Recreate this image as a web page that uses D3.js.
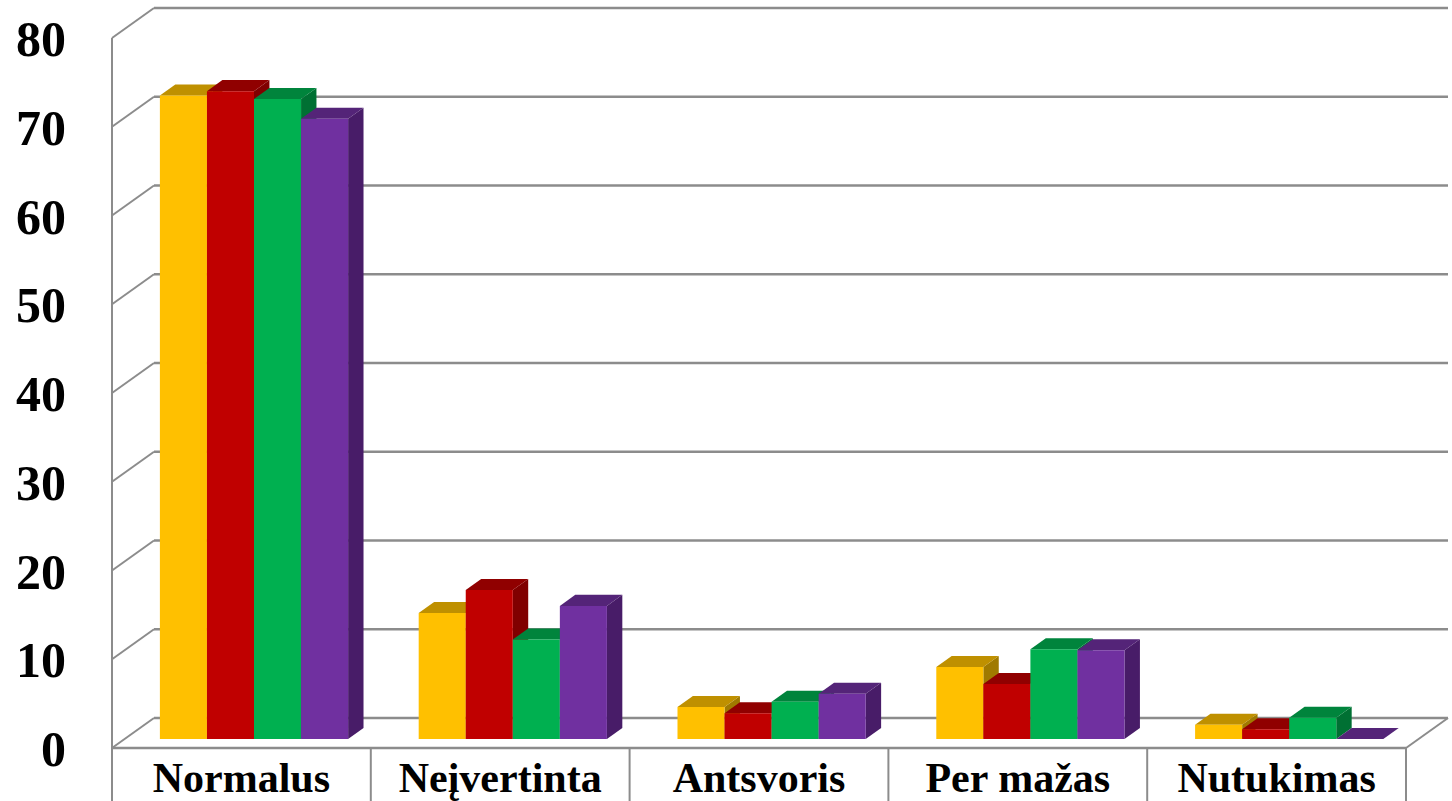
<!DOCTYPE html>
<html>
<head>
<meta charset="utf-8">
<script src="https://cdn.jsdelivr.net/npm/d3@7"></script>
<style>
  html, body { margin: 0; padding: 0; background: #fff; }
  svg { display: block; }
  text { font-family: 'Liberation Serif', 'Times New Roman', serif; font-weight: bold; fill: #000; }
</style>
</head>
<body>
<svg id="chart" width="1452" height="801"></svg>
<script>
const categories = ['Normalus', 'Neįvertinta', 'Antsvoris', 'Per mažas', 'Nutukimas'];
const series = ['Serija 1', 'Serija 2', 'Serija 3', 'Serija 4'];
const values = [
  [72.5, 73.0, 72.1, 69.9],
  [14.2, 16.8, 11.2, 15.0],
  [3.6, 2.9, 4.2, 5.1],
  [8.1, 6.2, 10.1, 10.0],
  [1.6, 1.1, 2.4, 0]
];
const yTicks = [0, 10, 20, 30, 40, 50, 60, 70, 80];

const frontColours = ['#FFC000', '#C00000', '#00B050', '#7030A0'];
const topColours = ['#BF9000', '#900000', '#00843C', '#542478'];
const sideColours = ['#A07A00', '#800000', '#007033', '#481C68'];

const svg = d3.select('#chart');

// depth of the box (oblique projection)
const depth = { dx: 42, dy: -30 };
const barFront = 0.3;
const barBack = 0.667;

const x0 = d3.scaleBand().domain(categories).range([112, 1406]);
const x1 = d3.scaleBand().domain(series).range([0, x0.bandwidth()]).paddingOuter(0.75);
const y = d3.scaleLinear().domain([0, 80]).range([748, 38]);

function pt(x, v, t) {
  return [x + t * depth.dx, y(v) + t * depth.dy];
}

const gridColour = '#8c8c8c';
const grid = svg.append('g').attr('class', 'grid');

// back wall gridlines
grid.selectAll('line.back')
  .data(yTicks)
  .enter()
  .append('line')
  .attr('class', 'back')
  .attr('x1', d => pt(112, d, 1)[0])
  .attr('y1', d => pt(112, d, 1)[1])
  .attr('x2', d => pt(1406, d, 1)[0])
  .attr('y2', d => pt(1406, d, 1)[1])
  .attr('stroke', gridColour)
  .attr('stroke-width', 2.5);

// side wall diagonals
grid.selectAll('line.side')
  .data(yTicks)
  .enter()
  .append('line')
  .attr('class', 'side')
  .attr('x1', d => pt(112, d, 0)[0])
  .attr('y1', d => pt(112, d, 0)[1])
  .attr('x2', d => pt(112, d, 1)[0])
  .attr('y2', d => pt(112, d, 1)[1])
  .attr('stroke', gridColour)
  .attr('stroke-width', 2);

// front-left vertical axis, running into category box
grid.append('line')
  .attr('x1', 112).attr('y1', y(80))
  .attr('x2', 112).attr('y2', 801)
  .attr('stroke', gridColour).attr('stroke-width', 2);

// floor front edge and right diagonal
grid.append('line')
  .attr('x1', 112).attr('y1', y(0))
  .attr('x2', 1406).attr('y2', y(0))
  .attr('stroke', gridColour).attr('stroke-width', 2.5);
grid.append('line')
  .attr('x1', pt(1406, 0, 0)[0]).attr('y1', pt(1406, 0, 0)[1])
  .attr('x2', pt(1406, 0, 1)[0]).attr('y2', pt(1406, 0, 1)[1])
  .attr('stroke', gridColour).attr('stroke-width', 2);

// category box separators
grid.selectAll('line.sep')
  .data(categories.slice(1).concat(['__end']))
  .enter()
  .append('line')
  .attr('class', 'sep')
  .attr('x1', d => (d === '__end' ? 1406 : x0(d)))
  .attr('x2', d => (d === '__end' ? 1406 : x0(d)))
  .attr('y1', y(0))
  .attr('y2', 801)
  .attr('stroke', gridColour)
  .attr('stroke-width', 2);

// bars
const bars = [];
categories.forEach((c, ci) => {
  series.forEach((s, si) => {
    bars.push({ cat: c, ser: s, si, value: values[ci][si] });
  });
});

const poly = p => p.map(q => q.join(',')).join(' ');

const barG = svg.append('g').attr('class', 'bars')
  .selectAll('g')
  .data(bars)
  .enter()
  .append('g');

barG.append('polygon')
  .attr('points', d => {
    const xr = x0(d.cat) + x1(d.ser) + x1.bandwidth();
    return poly([pt(xr, d.value, barFront), pt(xr, 0, barFront), pt(xr, 0, barBack), pt(xr, d.value, barBack)]);
  })
  .attr('fill', d => sideColours[d.si]);

barG.append('polygon')
  .attr('points', d => {
    const xl = x0(d.cat) + x1(d.ser);
    const xr = xl + x1.bandwidth();
    return poly([pt(xl, d.value, barFront), pt(xr, d.value, barFront), pt(xr, d.value, barBack), pt(xl, d.value, barBack)]);
  })
  .attr('fill', d => topColours[d.si]);

barG.append('polygon')
  .attr('points', d => {
    const xl = x0(d.cat) + x1(d.ser);
    const xr = xl + x1.bandwidth();
    return poly([pt(xl, d.value, barFront), pt(xr, d.value, barFront), pt(xr, 0, barFront), pt(xl, 0, barFront)]);
  })
  .attr('fill', d => frontColours[d.si]);

// y tick labels
svg.append('g')
  .selectAll('text')
  .data(yTicks)
  .enter()
  .append('text')
  .attr('x', 66)
  .attr('y', d => y(d) + 18)
  .attr('text-anchor', 'end')
  .attr('font-size', 50)
  .text(d => d);

// category labels
svg.append('g')
  .selectAll('text')
  .data(categories)
  .enter()
  .append('text')
  .attr('x', d => x0(d) + x0.bandwidth() / 2)
  .attr('y', 792)
  .attr('text-anchor', 'middle')
  .attr('font-size', 42)
  .text(d => d);
</script>
</body>
</html>
